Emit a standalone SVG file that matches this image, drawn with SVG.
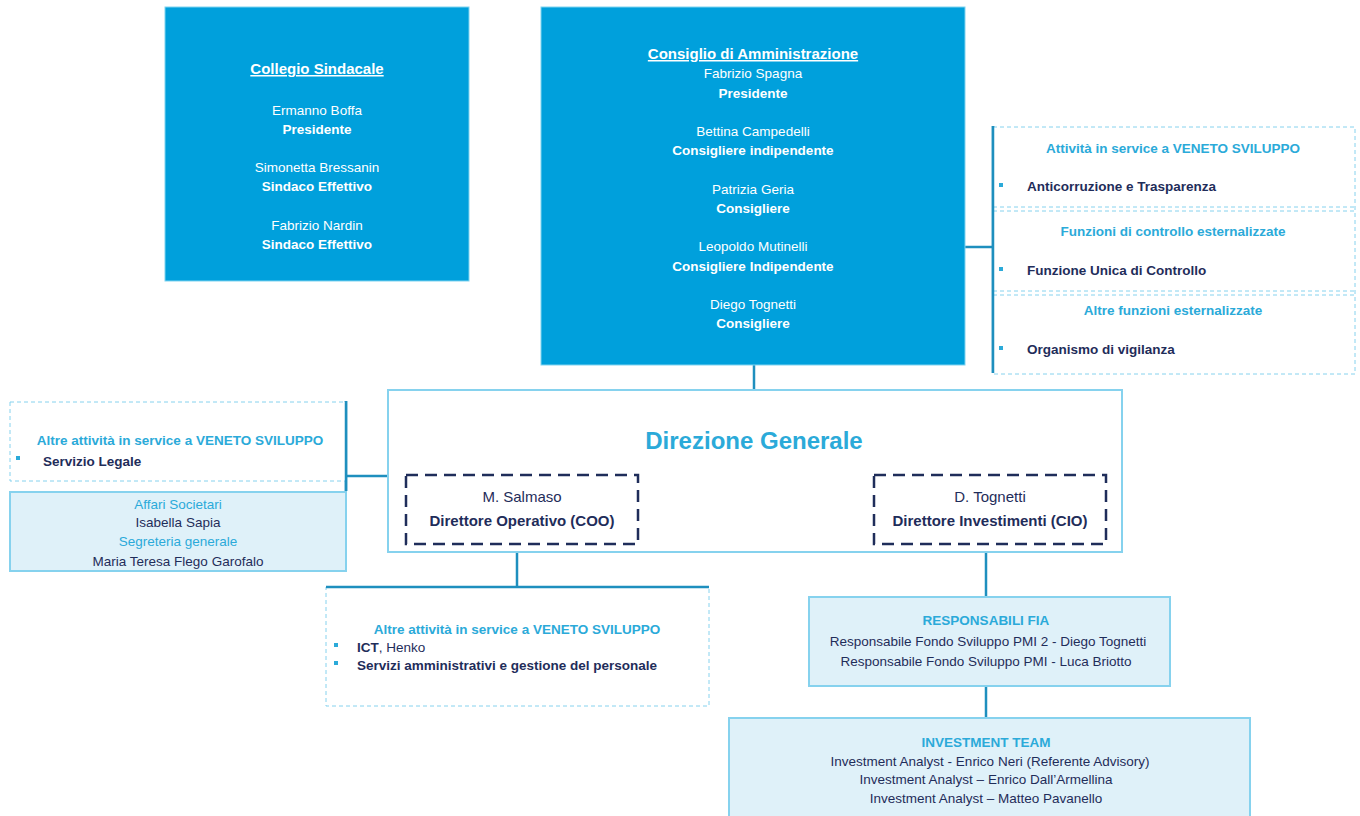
<svg xmlns="http://www.w3.org/2000/svg" width="1360" height="816" viewBox="0 0 1360 816">
<style>
text{font-family:"Liberation Sans",Arial,sans-serif;}
.w{fill:#ffffff;font-size:13.5px;text-anchor:middle;}
.wb{fill:#ffffff;font-size:13.5px;font-weight:bold;text-anchor:middle;}
.wt{fill:#ffffff;font-size:15px;font-weight:bold;text-anchor:middle;text-decoration:underline;}
.lb{fill:#2BAAD9;font-size:13.5px;font-weight:bold;text-anchor:middle;}
.nv{fill:#1F2D5A;font-size:13.5px;font-weight:bold;}
.nvm{fill:#1F2D5A;font-size:13.5px;text-anchor:middle;}
.nvb{fill:#1F2D5A;font-size:13.5px;font-weight:bold;text-anchor:middle;}
.blue{fill:#00A0DC;stroke:#7FD3F0;stroke-width:1;}
.light{fill:#DFF1F9;stroke:#86D2EE;stroke-width:2;}
.dash{fill:#ffffff;stroke:#86D2EE;stroke-width:1;stroke-dasharray:4 3;}
.dashnv{fill:none;stroke:#1F2D5A;stroke-width:2.5;stroke-dasharray:12 7;}
.con{stroke:#1E8FBE;stroke-width:2.5;fill:none;}
.bul{fill:#2BAAD9;}
</style>
<g id="connectors">
<line class="con" x1="754" y1="365" x2="754" y2="390"/>
<line class="con" x1="965" y1="247" x2="993" y2="247"/>
<line class="con" x1="993" y1="126" x2="993" y2="373"/>
<line class="con" x1="346" y1="476" x2="388" y2="476"/>
<line class="con" x1="346" y1="401" x2="346" y2="491"/>
<line class="con" x1="517" y1="552" x2="517" y2="587"/>
<line class="con" x1="986" y1="552" x2="986" y2="597"/>
<line class="con" x1="986" y1="686" x2="986" y2="718"/>
</g>
<g id="collegio-sindacale">
<rect class="blue" x="165" y="7" width="304" height="274"/>
<text class="wt" x="317" y="74">Collegio Sindacale</text>
<text class="w" x="317" y="115">Ermanno Boffa</text>
<text class="wb" x="317" y="134">Presidente</text>
<text class="w" x="317" y="172">Simonetta Bressanin</text>
<text class="wb" x="317" y="191">Sindaco Effettivo</text>
<text class="w" x="317" y="230">Fabrizio Nardin</text>
<text class="wb" x="317" y="249">Sindaco Effettivo</text>
</g>
<g id="consiglio-amministrazione">
<rect class="blue" x="541" y="7" width="424" height="358"/>
<text class="wt" x="753" y="59">Consiglio di Amministrazione</text>
<text class="w" x="753" y="78">Fabrizio Spagna</text>
<text class="wb" x="753" y="98">Presidente</text>
<text class="w" x="753" y="136">Bettina Campedelli</text>
<text class="wb" x="753" y="155">Consigliere indipendente</text>
<text class="w" x="753" y="194">Patrizia Geria</text>
<text class="wb" x="753" y="213">Consigliere</text>
<text class="w" x="753" y="251">Leopoldo Mutinelli</text>
<text class="wb" x="753" y="271">Consigliere Indipendente</text>
<text class="w" x="753" y="309">Diego Tognetti</text>
<text class="wb" x="753" y="328">Consigliere</text>
</g>
<g id="funzioni-esternalizzate">
<rect class="dash" x="993" y="127" width="362" height="247"/>
<line class="dash" x1="993" y1="207" x2="1355" y2="207"/>
<line class="dash" x1="993" y1="211" x2="1355" y2="211"/>
<line class="dash" x1="993" y1="291" x2="1355" y2="291"/>
<line class="dash" x1="993" y1="295" x2="1355" y2="295"/>
<line class="con" x1="993" y1="126" x2="993" y2="373"/>
<text class="lb" x="1173" y="153">Attività  in service  a VENETO SVILUPPO</text>
<rect class="bul" x="999" y="183" width="4" height="4"/>
<text class="nv" x="1027" y="191">Anticorruzione e Trasparenza</text>
<text class="lb" x="1173" y="236">Funzioni di controllo esternalizzate</text>
<rect class="bul" x="999" y="267" width="4" height="4"/>
<text class="nv" x="1027" y="275">Funzione Unica  di Controllo</text>
<text class="lb" x="1173" y="315">Altre funzioni  esternalizzate</text>
<rect class="bul" x="999" y="346" width="4" height="4"/>
<text class="nv" x="1027" y="354">Organismo di vigilanza</text>
</g>
<g id="servizio-legale">
<rect class="dash" x="10" y="402" width="336" height="79"/>
<line class="con" x1="346" y1="401" x2="346" y2="491"/>
<text class="lb" x="180" y="445">Altre attività  in service  a VENETO SVILUPPO</text>
<rect class="bul" x="16" y="456" width="4" height="4"/>
<text class="nv" x="43" y="466">Servizio  Legale</text>
</g>
<g id="affari-societari">
<rect class="light" x="10" y="492" width="336" height="79"/>
<text class="lb" x="178" y="509" style="font-weight:normal">Affari Societari</text>
<text class="nvm" x="178" y="527">Isabella Sapia</text>
<text class="lb" x="178" y="546" style="font-weight:normal">Segreteria generale</text>
<text class="nvm" x="178" y="566">Maria Teresa Flego Garofalo</text>
</g>
<g id="direzione-generale">
<rect x="388" y="390" width="734" height="162" fill="#ffffff" stroke="#86D2EE" stroke-width="2"/>
<text x="754" y="449" fill="#2BAAD9" font-size="24" font-weight="bold" text-anchor="middle">Direzione  Generale</text>
</g>
<g id="coo">
<rect class="dashnv" x="406" y="475" width="232" height="69"/>
<text class="nvm" x="522" y="502" style="font-size:15px">M. Salmaso</text>
<text class="nvb" x="522" y="526" style="font-size:15px">Direttore Operativo (COO)</text>
</g>
<g id="cio">
<rect class="dashnv" x="874" y="475" width="232" height="69"/>
<text class="nvm" x="990" y="502" style="font-size:15px">D. Tognetti</text>
<text class="nvb" x="990" y="526" style="font-size:15px">Direttore Investimenti  (CIO)</text>
</g>
<g id="servizi-amministrativi">
<rect class="dash" x="326" y="587" width="383" height="119"/>
<line class="con" x1="326" y1="587" x2="709" y2="587"/>
<text class="lb" x="517" y="634">Altre attività  in service  a VENETO SVILUPPO</text>
<rect class="bul" x="334" y="643" width="4" height="4"/>
<text x="357" y="652" fill="#1F2D5A" font-size="13.5"><tspan font-weight="bold">ICT</tspan>,  Henko</text>
<rect class="bul" x="334" y="661" width="4" height="4"/>
<text class="nv" x="357" y="670">Servizi amministrativi  e gestione del personale</text>
</g>
<g id="responsabili-fia">
<rect class="light" x="809" y="597" width="361" height="89"/>
<text class="lb" x="986" y="625">RESPONSABILI  FIA</text>
<text class="nvm" x="988" y="646">Responsabile Fondo Sviluppo PMI 2  - Diego Tognetti</text>
<text class="nvm" x="986" y="666">Responsabile Fondo Sviluppo PMI  -  Luca Briotto</text>
</g>
<g id="investment-team">
<rect class="light" x="729" y="718" width="521" height="110"/>
<text class="lb" x="986" y="747">INVESTMENT  TEAM</text>
<text class="nvm" x="990" y="766">Investment Analyst - Enrico Neri (Referente  Advisory)</text>
<text class="nvm" x="986" y="784">Investment Analyst – Enrico Dall’Armellina</text>
<text class="nvm" x="986" y="803">Investment Analyst – Matteo Pavanello</text>
</g>
</svg>
